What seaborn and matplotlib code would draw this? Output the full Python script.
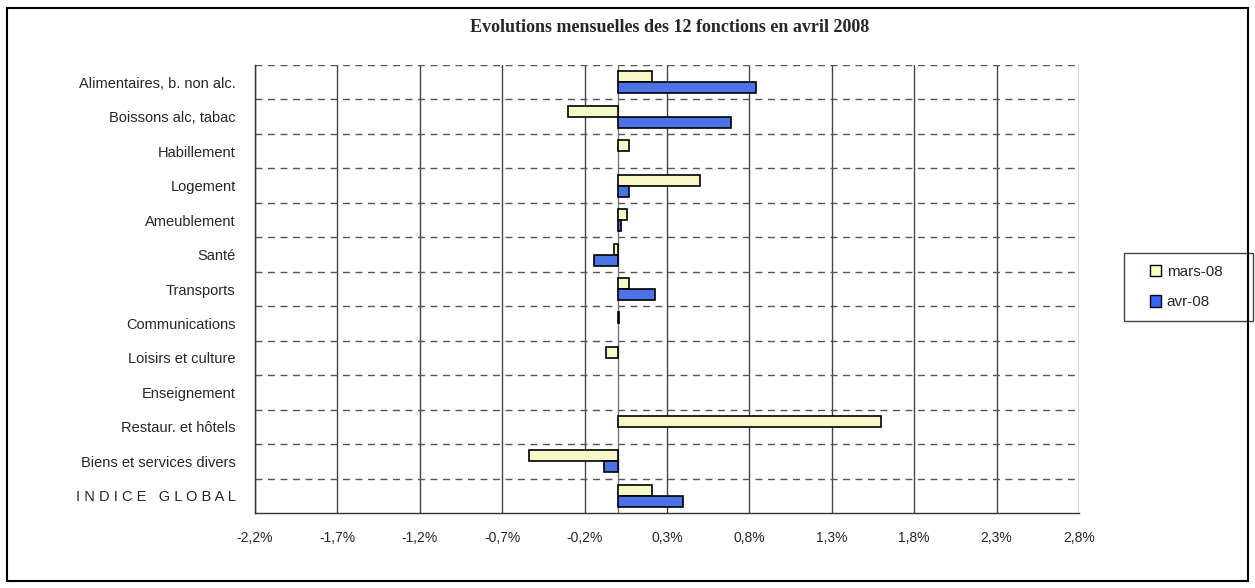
import matplotlib
matplotlib.use("Agg")
import matplotlib.pyplot as plt
import matplotlib.patches as mpatches
import numpy as np
import pandas as pd
import seaborn as sns

# Données (en %)
categories = [
    "Alimentaires, b. non alc.",
    "Boissons alc, tabac",
    "Habillement",
    "Logement",
    "Ameublement",
    "Santé",
    "Transports",
    "Communications",
    "Loisirs et culture",
    "Enseignement",
    "Restaur. et hôtels",
    "Biens et services divers",
    "I N D I C E   G L O B A L",
]
mars_08 = [0.21, -0.30, 0.07, 0.50, 0.06, -0.02, 0.07, 0.01, -0.07, 0.0, 1.60, -0.54, 0.21]
avr_08 = [0.84, 0.69, 0.0, 0.07, 0.02, -0.14, 0.23, 0.0, 0.0, 0.0, 0.0, -0.08, 0.40]
series_names = ["mars-08", "avr-08"]
series_colors = ["#FFFFC0", "#3366FF"]
x_ticks = [-2.2, -1.7, -1.2, -0.7, -0.2, 0.3, 0.8, 1.3, 1.8, 2.3, 2.8]

df = pd.DataFrame({"Fonction": categories, "mars-08": mars_08, "avr-08": avr_08})
df = df.melt(id_vars="Fonction", var_name="Mois", value_name="Evolution")
# pas de barre visible pour une évolution nulle
df.loc[df["Evolution"] == 0, "Evolution"] = np.nan

sns.set_style("white")
plt.rcParams["font.family"] = ["Liberation Sans", "DejaVu Sans"]

fig = plt.figure(figsize=(12.55, 5.88), dpi=100)
ax = fig.add_axes([255 / 1255, 1 - 513 / 588, (1079 - 255) / 1255, (513 - 65) / 588])

sns.barplot(data=df, x="Evolution", y="Fonction", hue="Mois", hue_order=series_names,
            order=categories, palette=series_colors, orient="h", width=0.64,
            edgecolor="black", linewidth=1.2, legend=False, ax=ax, zorder=3)

# Axes
ax.set_xlim(-2.2, 2.8)
ax.set_ylim(len(categories) - 0.5, -0.5)
ax.set_xticks(x_ticks)
ax.set_xticklabels([f"{t:.1f}%".replace(".", ",") for t in x_ticks], fontsize=10)
ax.set_yticks(range(len(categories)))
ax.set_yticklabels(categories, fontsize=10.5)
ax.set_yticks(np.arange(-0.5, len(categories) - 0.5, 1), minor=True)
ax.tick_params(axis="y", which="major", length=0, pad=14)
ax.tick_params(axis="y", which="minor", length=4, width=1, color="#404040", direction="out")
ax.tick_params(axis="x", length=5, width=1, color="#404040", direction="out", pad=8)
ax.set_xlabel("")
ax.set_ylabel("")

# Grilles
ax.grid(False)
for t in x_ticks:
    ax.axvline(t, color="#444444", linewidth=1, zorder=1)
for y in np.arange(-0.5, len(categories) - 0.5, 1):
    ax.axhline(y, color="#555555", linewidth=1, linestyle=(0, (5, 4)), zorder=1)
ax.axvline(0, color="#777777", linewidth=1, zorder=2)

for side in ["top", "right"]:
    ax.spines[side].set_visible(False)
for side in ["left", "bottom"]:
    ax.spines[side].set_color("#333333")
    ax.spines[side].set_linewidth(1)

# Titre
fig.text(670 / 1255, 1 - 28 / 588, "Evolutions mensuelles des 12 fonctions en avril 2008",
         ha="center", va="center", fontsize=13, fontweight="bold",
         family=["Liberation Serif", "DejaVu Serif"])

# Légende
handles = [mpatches.Patch(facecolor=c, edgecolor="black", linewidth=1, label=n)
           for n, c in zip(series_names, series_colors)]
leg = fig.legend(handles=handles, loc="center left", bbox_to_anchor=(1150 / 1255, 1 - 287 / 588),
                 fontsize=11, frameon=False, handlelength=0.75, handleheight=0.75,
                 handletextpad=0.35, labelspacing=1.1, borderpad=0, borderaxespad=0)
fig.patches.append(mpatches.Rectangle((1124 / 1255, 1 - 321 / 588), (1253 - 1124) / 1255, (321 - 253) / 588,
                                      transform=fig.transFigure, fill=False,
                                      edgecolor="#444444", linewidth=1))

# Cadre extérieur
fig.patches.append(mpatches.Rectangle((7 / 1255, 1 - 581 / 588), (1248 - 7) / 1255, (581 - 8) / 588,
                                      transform=fig.transFigure, fill=False,
                                      edgecolor="black", linewidth=1.5))

fig.savefig("out.png", dpi=100)
